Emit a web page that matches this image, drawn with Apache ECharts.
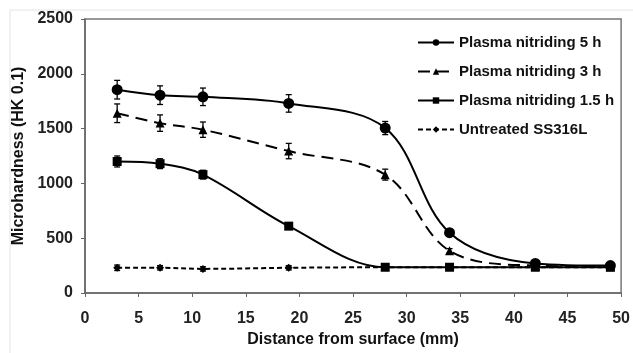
<!DOCTYPE html>
<html><head><meta charset="utf-8">
<script src="https://cdn.jsdelivr.net/npm/echarts@6/dist/echarts.min.js"></script>
<style>html,body{margin:0;padding:0;background:#fff}#c{width:633px;height:353px}</style>
</head><body><div id="c"></div>
<script>
const distances = [3, 7, 11, 19, 28, 34, 42, 49];
const seriesNames = ['Plasma nitriding 5 h', 'Plasma nitriding 3 h', 'Plasma nitriding 1.5 h', 'Untreated SS316L'];
const pn5h = [1855, 1805, 1790, 1730, 1505, 550, 270, 250];
const pn3h = [1640, 1550, 1490, 1295, 1080, 385, 250, 240];
const pn15h = [1200, 1180, 1080, 610, 235, 235, 235, 235];
const untreated = [230, 230, 220, 230, 235, 235, 235, 235];
const err5h = [85, 85, 80, 80, 60, 20, 20, 15];
const err3h = [85, 75, 70, 70, 50, 20, 15, 15];
const err15h = [50, 45, 40, 20, 15, 10, 10, 10];
const errUnt = [25, 20, 20, 20, 10, 10, 10, 10];
const xTicks = [0, 5, 10, 15, 20, 25, 30, 35, 40, 45, 50];
const yTicks = [0, 500, 1000, 1500, 2000, 2500];

const values = [pn5h, pn3h, pn15h, untreated];
const errs = [err5h, err3h, err15h, errUnt];
const symbols = ['circle', 'triangle', 'rect', 'diamond'];
const sizes = [11, 9, 9, 8];
const dashes = ['solid', [12, 7], 'solid', [5, 3]];
const font = 'Liberation Sans, Arial, sans-serif';

const series = [];
values.forEach((vals, i) => {
  series.push({
    name: seriesNames[i], type: 'line', smooth: 0.35,
    data: distances.map((d, k) => [d, vals[k]]),
    symbol: symbols[i], symbolSize: sizes[i],
    itemStyle: { color: '#000' },
    lineStyle: { color: '#000', width: 2, type: dashes[i] },
    z: 3
  });
  series.push({
    type: 'custom', name: seriesNames[i] + ' err', z: 4,
    data: distances.map((d, k) => [d, vals[k] - errs[i][k], vals[k] + errs[i][k]]),
    renderItem: (params, api) => {
      const x = api.value(0);
      const lo = api.coord([x, api.value(1)]);
      const hi = api.coord([x, api.value(2)]);
      const w = 3;
      const st = { stroke: '#000', lineWidth: 1.3 };
      return { type: 'group', children: [
        { type: 'line', shape: { x1: lo[0], y1: lo[1], x2: hi[0], y2: hi[1] }, style: st },
        { type: 'line', shape: { x1: lo[0] - w, y1: lo[1], x2: lo[0] + w, y2: lo[1] }, style: st },
        { type: 'line', shape: { x1: hi[0] - w, y1: hi[1], x2: hi[0] + w, y2: hi[1] }, style: st }
      ]};
    }
  });
});

const chart = echarts.init(document.getElementById('c'));
chart.setOption({
  animation: false,
  backgroundColor: '#fff',
  graphic: [{ type: 'rect', shape: { x: 10, y: 10, width: 640, height: 360 }, style: { fill: 'none', stroke: '#e4e4e4', lineWidth: 1 } }],
  grid: { left: 85, top: 19, right: 9, bottom: 59, show: true, borderColor: '#777', borderWidth: 1.5 },
  legend: {
    data: seriesNames, orient: 'vertical', left: 412, top: 30,
    itemWidth: 36, itemHeight: 8, itemGap: 14,
    textStyle: { fontFamily: font, fontWeight: 'bold', fontSize: 15, color: '#111' },
    itemStyle: { color: '#000' }
  },
  xAxis: {
    type: 'value', min: 0, max: 50, interval: 5,
    name: 'Distance from surface (mm)', nameLocation: 'middle', nameGap: 39,
    nameTextStyle: { fontFamily: font, fontWeight: 'bold', fontSize: 16, color: '#111' },
    axisLine: { show: true, lineStyle: { color: '#666', width: 1.5 } },
    axisTick: { show: true, inside: false, length: 4, lineStyle: { color: '#666' } },
    splitLine: { show: false },
    axisLabel: { fontFamily: font, fontWeight: 'bold', fontSize: 16, color: '#222', margin: 18,
      formatter: v => xTicks.includes(v) ? String(v) : '' }
  },
  yAxis: {
    type: 'value', min: 0, max: 2500, interval: 500,
    name: 'Microhardness (HK 0.1)', nameLocation: 'middle', nameGap: 57, nameRotate: 90,
    nameTextStyle: { fontFamily: font, fontWeight: 'bold', fontSize: 16, color: '#111' },
    axisLine: { show: true, lineStyle: { color: '#666', width: 1.5 } },
    axisTick: { show: true, inside: false, length: 4, lineStyle: { color: '#666' } },
    splitLine: { show: false },
    axisLabel: { fontFamily: font, fontWeight: 'bold', fontSize: 16, color: '#222', margin: 12,
      formatter: v => yTicks.includes(v) ? String(v) : '' }
  },
  series: series
});
</script></body></html>
